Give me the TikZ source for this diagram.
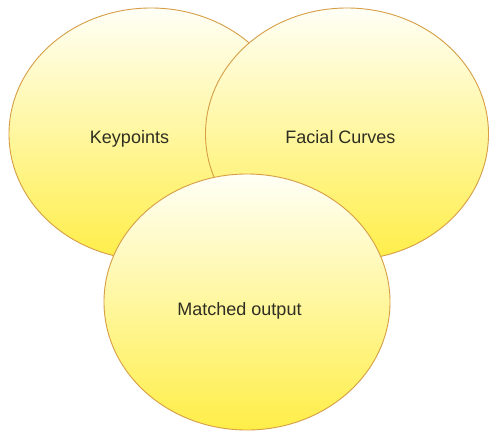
\documentclass[tikz,border=0pt]{standalone}
\usepackage{fontspec}
\setmainfont{Liberation Sans}
\usetikzlibrary{shapes.geometric}
\definecolor{rim}{HTML}{D69E45}
\definecolor{topy}{HTML}{FFFFF6}
\definecolor{midy}{HTML}{FFFAC2}
\definecolor{boty}{HTML}{FFEE48}
\definecolor{txt}{HTML}{2E2E22}
\tikzset{
  blob/.style={ellipse, draw=rim, line width=0.9pt, top color=topy, middle color=midy, bottom color=boty, inner sep=0pt},
  lbl/.style={anchor=base, text=txt, font=\fontsize{18}{20}\selectfont, inner sep=0pt}
}
\begin{document}
\begin{tikzpicture}[x=1pt,y=1pt]
\useasboundingbox (0,0) rectangle (489,432);
\fill[white] (0,0) rectangle (489,432);
\node[blob, minimum width=284pt, minimum height=252pt] (kp) at (151,298) {};
\node[blob, minimum width=283pt, minimum height=252pt] (fc) at (347,298) {};
\node[blob, minimum width=286pt, minimum height=256pt] (mo) at (247,130) {};
\node[lbl] (kpt) at (129.5,289) {Keypoints};
\node[lbl] (fct) at (340.5,289) {Facial Curves};
\node[lbl] (mot) at (239.5,117) {Matched output};
\end{tikzpicture}
\end{document}
